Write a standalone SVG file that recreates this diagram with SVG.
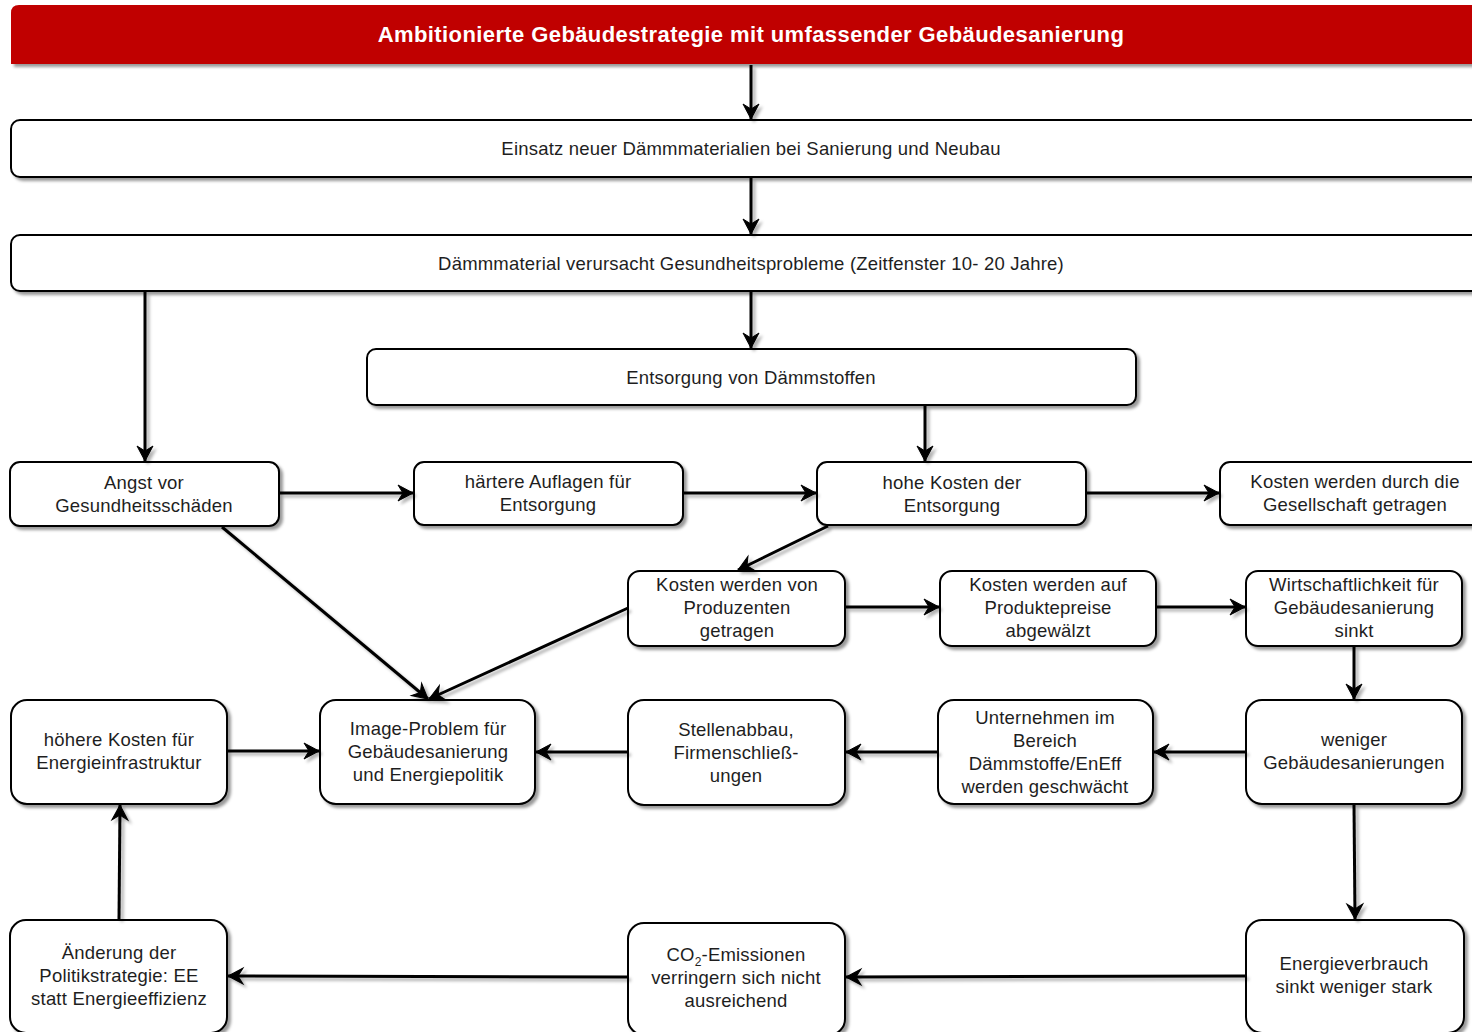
<svg xmlns="http://www.w3.org/2000/svg" width="1472" height="1032" viewBox="0 0 1472 1032">
<defs>
<filter id="sh" x="-10%" y="-10%" width="130%" height="140%">
<feDropShadow dx="3" dy="3" stdDeviation="1.6" flood-color="#000" flood-opacity="0.4"/>
</filter>
<filter id="lsh" filterUnits="userSpaceOnUse" x="0" y="0" width="1472" height="1032">
<feDropShadow dx="3" dy="3" stdDeviation="1.5" flood-color="#000" flood-opacity="0.3"/>
</filter>
<marker id="ar" markerUnits="userSpaceOnUse" markerWidth="20" markerHeight="20" refX="16" refY="9" orient="auto" overflow="visible">
<path d="M16,9 L1,1 L6,9 L1,17 Z" fill="#000" stroke="#000" stroke-width="1" stroke-linejoin="miter"/>
</marker>
</defs>
<style>
.box{fill:#fff;stroke:#000;stroke-width:2;filter:url(#sh);}
.t{font-family:"Liberation Sans",Arial,sans-serif;font-size:18.5px;letter-spacing:0.2px;fill:#1e1e1e;text-anchor:middle;}
.h{font-family:"Liberation Sans",Arial,sans-serif;font-size:22px;letter-spacing:0.4px;font-weight:bold;fill:#fff;text-anchor:middle;}
.c{fill:none;stroke:#000;stroke-width:3;marker-end:url(#ar);}
</style>
<rect width="1472" height="1032" fill="#fff"/>

<g id="header">
<path d="M11,64 L11,13 Q11,5 19,5 L1480,5 L1480,64 Z" fill="#C00000" filter="url(#sh)"/>
<text class="h" x="751" y="42">Ambitionierte Gebäudestrategie mit umfassender Gebäudesanierung</text>
</g>

<g id="n1"><rect class="box" x="11" y="120" width="1480" height="57" rx="9"/>
<text class="t" x="751" y="155">Einsatz neuer Dämmmaterialien bei Sanierung und Neubau</text></g>

<g id="n2"><rect class="box" x="11" y="235" width="1480" height="56" rx="9"/>
<text class="t" x="751" y="269.5">Dämmmaterial verursacht Gesundheitsprobleme (Zeitfenster 10- 20 Jahre)</text></g>

<g id="n3"><rect class="box" x="367" y="349" width="769" height="56" rx="9"/>
<text class="t" x="751" y="384">Entsorgung von Dämmstoffen</text></g>

<g id="n4"><rect class="box" x="10" y="462" width="269" height="64" rx="10"/>
<text class="t" x="144" y="489">Angst vor</text><text class="t" x="144" y="512">Gesundheitsschäden</text></g>

<g id="n5"><rect class="box" x="414" y="462" width="269" height="63" rx="10"/>
<text class="t" x="548" y="488">härtere Auflagen für</text><text class="t" x="548" y="511">Entsorgung</text></g>

<g id="n6"><rect class="box" x="817" y="462" width="269" height="63" rx="10"/>
<text class="t" x="952" y="489">hohe Kosten der</text><text class="t" x="952" y="512">Entsorgung</text></g>

<g id="n7"><rect class="box" x="1220" y="462" width="270" height="63" rx="10"/>
<text class="t" x="1355" y="488">Kosten werden durch die</text><text class="t" x="1355" y="511">Gesellschaft getragen</text></g>

<g id="n8"><rect class="box" x="628" y="571" width="217" height="75" rx="12"/>
<text class="t" x="737" y="591">Kosten werden von</text><text class="t" x="737" y="614">Produzenten</text><text class="t" x="737" y="637">getragen</text></g>

<g id="n9"><rect class="box" x="940" y="571" width="216" height="75" rx="12"/>
<text class="t" x="1048" y="591">Kosten werden auf</text><text class="t" x="1048" y="614">Produktepreise</text><text class="t" x="1048" y="637">abgewälzt</text></g>

<g id="n10"><rect class="box" x="1246" y="571" width="216" height="75" rx="12"/>
<text class="t" x="1354" y="591">Wirtschaftlichkeit für</text><text class="t" x="1354" y="614">Gebäudesanierung</text><text class="t" x="1354" y="637">sinkt</text></g>

<g id="n11"><rect class="box" x="11" y="700" width="216" height="104" rx="16"/>
<text class="t" x="119" y="746">höhere Kosten für</text><text class="t" x="119" y="769">Energieinfrastruktur</text></g>

<g id="n12"><rect class="box" x="320" y="700" width="215" height="104" rx="16"/>
<text class="t" x="428" y="735">Image-Problem für</text><text class="t" x="428" y="758">Gebäudesanierung</text><text class="t" x="428" y="781">und Energiepolitik</text></g>

<g id="n13"><rect class="box" x="628" y="700" width="217" height="105" rx="16"/>
<text class="t" x="736" y="736">Stellenabbau,</text><text class="t" x="736" y="759">Firmenschließ-</text><text class="t" x="736" y="782">ungen</text></g>

<g id="n14"><rect class="box" x="938" y="700" width="215" height="104" rx="16"/>
<text class="t" x="1045" y="724">Unternehmen im</text><text class="t" x="1045" y="747">Bereich</text><text class="t" x="1045" y="770">Dämmstoffe/EnEff</text><text class="t" x="1045" y="793">werden geschwächt</text></g>

<g id="n15"><rect class="box" x="1246" y="700" width="216" height="104" rx="16"/>
<text class="t" x="1354" y="746">weniger</text><text class="t" x="1354" y="769">Gebäudesanierungen</text></g>

<g id="n16"><rect class="box" x="10" y="920" width="217" height="113" rx="16"/>
<text class="t" x="119" y="959">Änderung der</text><text class="t" x="119" y="982">Politikstrategie: EE</text><text class="t" x="119" y="1005">statt Energieeffizienz</text></g>

<g id="n17"><rect class="box" x="628" y="923" width="217" height="112" rx="16"/>
<text class="t" x="736" y="961">CO<tspan font-size="12" dy="5">2</tspan><tspan dy="-5">-Emissionen</tspan></text><text class="t" x="736" y="984">verringern sich nicht</text><text class="t" x="736" y="1007">ausreichend</text></g>

<g id="n18"><rect class="box" x="1246" y="920" width="218" height="113" rx="16"/>
<text class="t" x="1354" y="970">Energieverbrauch</text><text class="t" x="1354" y="993">sinkt weniger stark</text></g>

<g id="connectors" filter="url(#lsh)">
<line class="c" x1="751" y1="65" x2="751" y2="119"/>
<line class="c" x1="751" y1="178" x2="751" y2="234"/>
<line class="c" x1="751" y1="292" x2="751" y2="348"/>
<line class="c" x1="145" y1="292" x2="145" y2="461"/>
<line class="c" x1="925" y1="406" x2="925" y2="461"/>
<line class="c" x1="280" y1="493" x2="413" y2="493"/>
<line class="c" x1="684" y1="493" x2="816" y2="493"/>
<line class="c" x1="1087" y1="493" x2="1219" y2="493"/>
<line class="c" x1="828" y1="526" x2="738" y2="570"/>
<line class="c" x1="222" y1="527" x2="428" y2="699"/>
<line class="c" x1="628" y1="608" x2="429" y2="699"/>
<line class="c" x1="846" y1="607" x2="939" y2="607"/>
<line class="c" x1="1157" y1="607" x2="1245" y2="607"/>
<line class="c" x1="1354" y1="647" x2="1354" y2="699"/>
<line class="c" x1="1246" y1="752" x2="1154" y2="752"/>
<line class="c" x1="938" y1="752" x2="846" y2="752"/>
<line class="c" x1="628" y1="752" x2="536" y2="752"/>
<line class="c" x1="228" y1="751" x2="319" y2="751"/>
<line class="c" x1="1354" y1="805" x2="1355" y2="919"/>
<line class="c" x1="1246" y1="976" x2="846" y2="977"/>
<line class="c" x1="628" y1="977" x2="228" y2="976"/>
<line class="c" x1="119" y1="919" x2="120" y2="805"/>
</g>
</svg>
